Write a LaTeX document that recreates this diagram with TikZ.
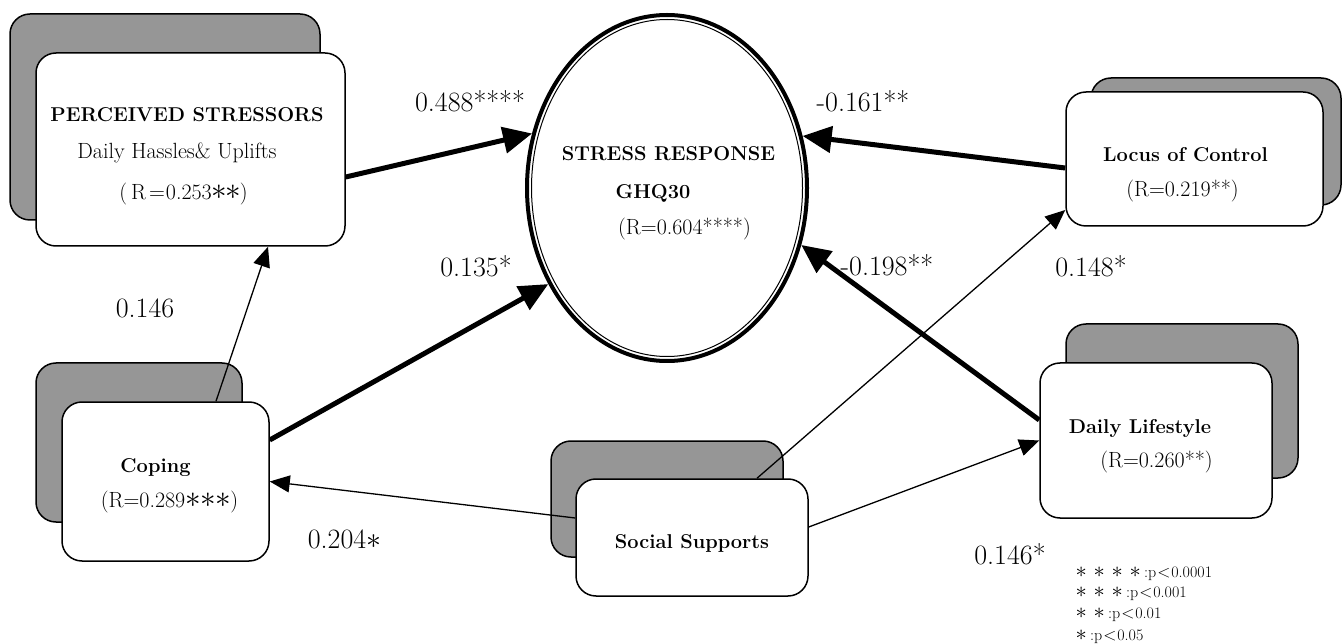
\documentclass[tikz,border=0pt]{standalone}
\usepackage{fontspec}
\usetikzlibrary{arrows.meta,shapes.geometric}
\definecolor{shade}{RGB}{150,150,150}
\pgfdeclarelayer{back}
\pgfdeclarelayer{mid}
\pgfsetlayers{back,mid,main}
\newcommand{\st}[2][1.5]{\makebox[#2]{\scalebox{#1}{$\ast$}}}
\newcommand{\lt}[1]{\makebox[#1]{$<$}}
\tikzset{
  frontbox/.style={draw=black,line width=1.5pt,rounded corners=20pt,fill=white,inner sep=0pt},
  grayback/.style={draw=black,line width=1.5pt,rounded corners=20pt,fill=shade,inner sep=0pt},
  bigarrow/.style={line width=5pt,-{Triangle[length=29pt,width=26pt]}},
  smallarrow/.style={line width=1.3pt,-{Triangle[length=20pt,width=17pt]}},
  title/.style={font=\fontsize{20}{24}\selectfont\bfseries,inner sep=0pt,anchor=base},
  body/.style={font=\fontsize{22}{26}\selectfont,inner sep=0pt,anchor=base},
  coef/.style={font=\fontsize{28}{32}\selectfont,inner sep=0pt,anchor=base},
  legend/.style={font=\fontsize{16}{18}\selectfont,inner sep=0pt,anchor=base west},
}
\begin{document}
\begin{tikzpicture}[x=1pt,y=-1pt]
\useasboundingbox (0,0) rectangle (1342,644);

% front boxes
\node[frontbox,minimum width=309pt,minimum height=193pt] (ps) at (190.5,149.5) {};
\node[frontbox,minimum width=257pt,minimum height=134pt] (loc) at (1194.5,159) {};
\node[frontbox,minimum width=232pt,minimum height=155pt] (dl) at (1156,440.5) {};
\node[frontbox,minimum width=207pt,minimum height=159pt] (cop) at (165.5,481.5) {};
\node[frontbox,minimum width=232pt,minimum height=117pt] (soc) at (692,537.5) {};

% ellipse (double line)
\node[ellipse,draw,line width=4pt,fill=white,minimum width=280pt,minimum height=346pt,inner sep=0pt] (sr) at (667,188) {};
\node[ellipse,draw,line width=1pt,minimum width=271pt,minimum height=337pt,inner sep=0pt] (srin) at (667,188) {};

% shadow boxes
\begin{pgfonlayer}{back}
\node[grayback,minimum width=310pt,minimum height=206pt] (psg) at (165,117) {};
\node[grayback,minimum width=250pt,minimum height=127pt] (locg) at (1216,141.5) {};
\node[grayback,minimum width=232pt,minimum height=154pt] (dlg) at (1182,401) {};
\node[grayback,minimum width=206pt,minimum height=159pt] (copg) at (139,442.5) {};
\node[grayback,minimum width=232pt,minimum height=116pt] (socg) at (667,499) {};
\end{pgfonlayer}

% connectors
\begin{pgfonlayer}{mid}
\draw[bigarrow] ([yshift=-27.5pt]ps.east) -- (sr.158.5);
\draw[bigarrow] ([yshift=-9pt]loc.west) -- (sr.21.4);
\draw[bigarrow] ([yshift=41.5pt]cop.east) -- (sr.219.5);
\draw[bigarrow] ([yshift=20.5pt]dl.west) -- (sr.337.1);
\draw[smallarrow] ([xshift=50.5pt]cop.north) -- ([xshift=77.5pt]ps.south);
\draw[smallarrow] ([yshift=19.5pt]soc.west) -- (cop.east);
\draw[smallarrow] ([xshift=65pt]soc.north) -- ([yshift=-51pt]loc.west);
\draw[smallarrow] ([yshift=10.5pt]soc.east) -- (dl.west);
\end{pgfonlayer}

% texts
\node[title] (pst) at (187,122) {PERCEIVED STRESSORS};
\node[body] (psd) at (177,159) {Daily Hassles\& Uplifts};
\node[body] (psr) at (183.5,200) {(\hspace{4pt}R\hspace{3pt}=\hspace{1pt}0.253\st{14pt}\st{14pt})};

\node[title] (srt) at (668.5,161) {STRESS RESPONSE};
\node[title] (srg) at (653,199) {GHQ30};
\node[body] (srr) at (684.5,235) {(R=0.604****)};

\node[title] (loct) at (1185.5,162) {Locus of Control};
\node[body] (locr) at (1182.5,197) {(R=0.219**)};

\node[title] (dlt) at (1140,433) {Daily Lifestyle};
\node[body] (dlr) at (1156.5,467) {(R=0.260**)};

\node[title] (copt) at (155.5,472) {Coping};
\node[body] (copr) at (169.5,507) {(R=0.289\st{15pt}\st{15pt}\st{15pt})};

\node[title] (soct) at (692,548) {Social Supports};

% coefficients
\node[coef] (c1) at (470,112) {0.488****};
\node[coef] (c2) at (863,112) {-0.161**};
\node[coef] (c3) at (476,277) {0.135*};
\node[coef] (c4) at (887,276) {-0.198**};
\node[coef] (c5) at (1091,277) {0.148*};
\node[coef] (c6) at (145,318) {0.146};
\node[coef] (c7) at (345,548) {0.204\st[1.2]{16pt}};
\node[coef] (c8) at (1010,564) {0.146*};

% legend
\node[legend] (l1) at (1072,577) {\st[1.3]{18pt}\st[1.3]{18pt}\st[1.3]{18pt}\st[1.3]{18pt}:p\lt{15pt}0.0001};
\node[legend] (l2) at (1072,597) {\st[1.3]{18pt}\st[1.3]{18pt}\st[1.3]{18pt}:p\lt{15pt}0.001};
\node[legend] (l3) at (1072,618) {\st[1.3]{18pt}\st[1.3]{18pt}:p\lt{15pt}0.01};
\node[legend] (l4) at (1072,640) {\st[1.3]{18pt}:p\lt{15pt}0.05};
\end{tikzpicture}
\end{document}
